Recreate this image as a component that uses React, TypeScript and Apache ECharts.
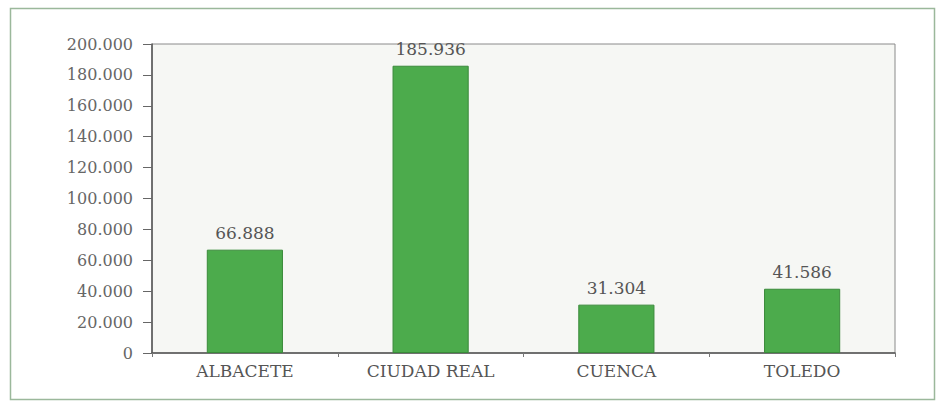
import React, { useEffect, useRef } from "react";
import * as echarts from "echarts";

const categories = ["ALBACETE", "CIUDAD REAL", "CUENCA", "TOLEDO"];
const values = [66888, 185936, 31304, 41586];
const yMin = 0;
const yMax = 200000;
const yInterval = 20000;

const fmt = (v: number) => {
  if (v === 0) return "0";
  const s = Math.round(v).toString();
  return s.replace(/\B(?=(\d{3})+(?!\d))/g, ".");
};

export default function App() {
  const ref = useRef<HTMLDivElement>(null);
  useEffect(() => {
    document.body.style.margin = "0";
    const chart = echarts.init(ref.current!, null, { renderer: "svg" });
    const font = "DejaVu Serif";
    chart.setOption({
      animation: false,
      backgroundColor: "#ffffff",
      graphic: [
        {
          type: "rect",
          shape: { x: 10.5, y: 8.5, width: 924, height: 391 },
          style: { fill: "none", stroke: "#9bb89b", lineWidth: 1.5 },
          silent: true,
        },
      ],
      grid: {
        left: 152,
        right: 44,
        top: 44,
        bottom: 53,
        show: true,
        backgroundColor: "#f6f7f4",
        borderColor: "#8a8a8a",
        borderWidth: 1,
      },
      xAxis: {
        type: "category",
        data: categories,
        axisLine: { show: true, lineStyle: { color: "#555", width: 1.5 } },
        axisTick: { show: true, length: 4, lineStyle: { color: "#777" } },
        axisLabel: {
          color: "#555",
          fontFamily: font,
          fontSize: 17,
          margin: 9,
        },
      },
      yAxis: {
        type: "value",
        min: yMin,
        max: yMax,
        interval: yInterval,
        axisLine: { show: true, lineStyle: { color: "#555", width: 1.5 } },
        axisTick: { show: true, length: 9, lineStyle: { color: "#666" } },
        splitLine: { show: false },
        axisLabel: {
          color: "#666",
          fontFamily: font,
          fontSize: 16,
          margin: 19,
          formatter: (v: number) => fmt(v),
        },
      },
      series: [
        {
          type: "bar",
          data: values,
          barWidth: "41%",
          itemStyle: {
            color: "#4cab4c",
            borderColor: "#3a8a3a",
            borderWidth: 1,
          },
          label: {
            show: true,
            position: "top",
            distance: 8,
            color: "#555",
            fontFamily: font,
            fontSize: 17,
            formatter: (p: any) => fmt(p.value),
          },
        },
      ],
    });
    return () => chart.dispose();
  }, []);
  return <div ref={ref} style={{ width: 939, height: 406 }} />;
}
